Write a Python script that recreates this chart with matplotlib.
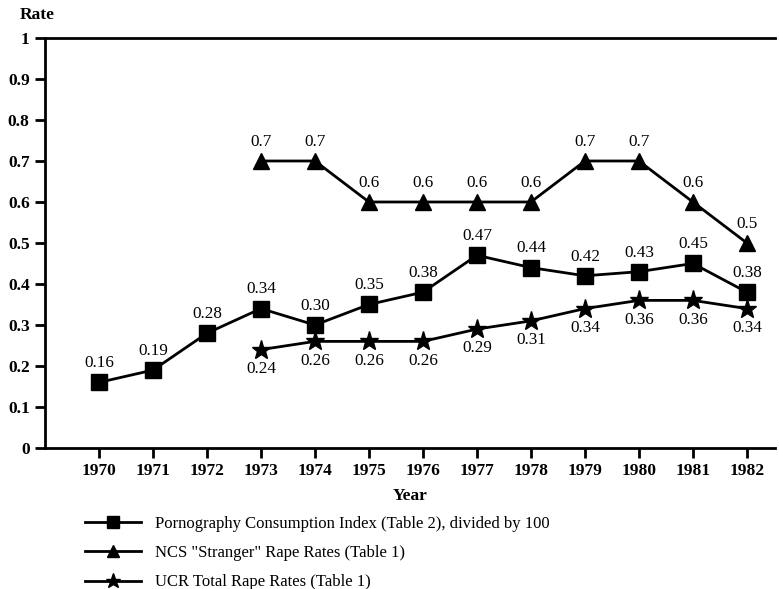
import numpy as np
import matplotlib
matplotlib.use("Agg")
import matplotlib.pyplot as plt

plt.rcParams['font.family'] = ['Liberation Serif', 'DejaVu Serif']

years = [1970, 1971, 1972, 1973, 1974, 1975, 1976, 1977, 1978, 1979, 1980, 1981, 1982]
porn_index = [0.16, 0.19, 0.28, 0.34, 0.30, 0.35, 0.38, 0.47, 0.44, 0.42, 0.43, 0.45, 0.38]
porn_labels = ['0.16', '0.19', '0.28', '0.34', '0.30', '0.35', '0.38', '0.47', '0.44', '0.42', '0.43', '0.45', '0.38']

ncs_years = [1973, 1974, 1975, 1976, 1977, 1978, 1979, 1980, 1981, 1982]
ncs_rates = [0.7, 0.7, 0.6, 0.6, 0.6, 0.6, 0.7, 0.7, 0.6, 0.5]

ucr_years = [1973, 1974, 1975, 1976, 1977, 1978, 1979, 1980, 1981, 1982]
ucr_rates = [0.24, 0.26, 0.26, 0.26, 0.29, 0.31, 0.34, 0.36, 0.36, 0.34]

y_ticks = [0, 0.1, 0.2, 0.3, 0.4, 0.5, 0.6, 0.7, 0.8, 0.9, 1]
y_ticklabels = ['0', '0.1', '0.2', '0.3', '0.4', '0.5', '0.6', '0.7', '0.8', '0.9', '1']

fig = plt.figure(figsize=(7.79, 5.89), dpi=100)
ax = fig.add_axes([0.0578, 0.2394, 0.937, 0.6961])

lw = 2.0
ax.plot(years, porn_index, color='black', lw=lw, marker='s', ms=11,
        label='Pornography Consumption Index (Table 2), divided by 100', clip_on=False)
ax.plot(ncs_years, ncs_rates, color='black', lw=lw, marker='^', ms=11,
        label='NCS "Stranger" Rape Rates (Table 1)', clip_on=False)
ax.plot(ucr_years, ucr_rates, color='black', lw=lw, marker='*', ms=14,
        label='UCR Total Rape Rates (Table 1)', clip_on=False)

lbl_size = 12.3
for x, y, t in zip(years, porn_index, porn_labels):
    ax.annotate(t, (x, y), xytext=(0, 8), textcoords='offset points',
                ha='center', va='bottom', fontsize=lbl_size)
for x, y in zip(ncs_years, ncs_rates):
    ax.annotate(f'{y:g}', (x, y), xytext=(0, 8), textcoords='offset points',
                ha='center', va='bottom', fontsize=lbl_size)
for x, y in zip(ucr_years, ucr_rates):
    ax.annotate(f'{y:.2f}', (x, y), xytext=(0, -8), textcoords='offset points',
                ha='center', va='top', fontsize=lbl_size)

tick_size = 12.5
ax.set_xlim(1969, 1982.52)
ax.set_ylim(0, 1)
ax.set_xticks(years)
ax.set_xticklabels([str(y) for y in years], fontsize=tick_size, fontweight='bold')
ax.set_yticks(y_ticks)
ax.set_yticklabels(y_ticklabels, fontsize=tick_size, fontweight='bold')
ax.tick_params(axis='both', direction='out', length=7, width=2, color='black', pad=4)

for side in ['left', 'top', 'bottom']:
    ax.spines[side].set_linewidth(2)
ax.spines['right'].set_visible(False)

ax.set_xlabel('Year', fontsize=tick_size, fontweight='bold', labelpad=6)
fig.text(20 / 779, 1 - 15 / 589, 'Rate', fontsize=tick_size, fontweight='bold',
         ha='left', va='center')

fig.legend(loc='upper left', bbox_to_anchor=(78 / 779, 1 - 509 / 589), frameon=False,
           fontsize=12, handlelength=3.4, labelspacing=0.8, markerscale=0.8,
           handletextpad=0.8, borderaxespad=0)

fig.savefig('out.png', dpi=100)
